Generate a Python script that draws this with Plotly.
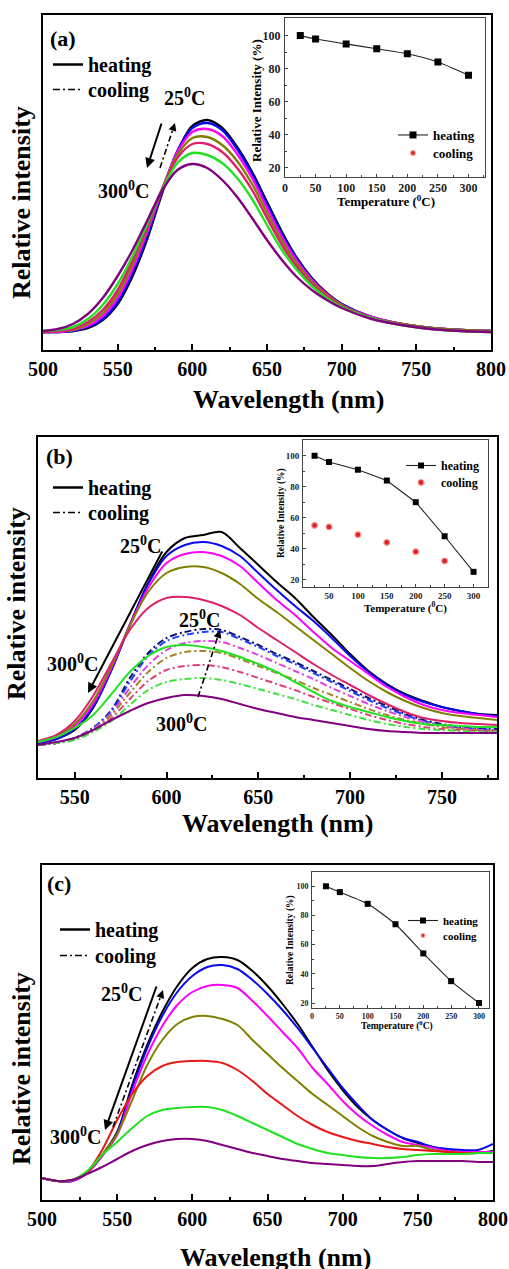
import plotly.graph_objects as go

W, H = 509, 1269
FONT = "Liberation Serif"


def px(x):
    return x / W


def py(y):
    return 1 - y / H


# ---------------- data ----------------
temps = [25, 50, 100, 150, 200, 250, 300]
temps_cool_b = [25, 50, 100, 150, 200, 250]

# Panel (a) emission spectra (arbitrary units)
wl_a = [500, 510, 520, 530, 540, 550, 560, 570, 580, 590, 600, 610, 620, 630, 640,
        650, 660, 670, 680, 690, 700, 720, 740, 760, 780, 800]
a_25 = [18, 18, 19, 22, 30, 46, 74, 112, 158, 198, 224, 230, 222, 203, 178, 148, 118, 92, 72, 57, 46, 33, 26, 22, 20, 19]
a_50 = [18, 18, 19, 23, 31, 48, 77, 115, 160, 199, 222, 227, 220, 201, 176, 146, 116, 91, 71, 56, 46, 33, 26, 22, 20, 19]
a_100 = [18, 18, 20, 24, 34, 52, 81, 119, 161, 198, 218, 221, 214, 196, 172, 142, 113, 89, 70, 56, 45, 33, 26, 22, 20, 19]
a_150 = [18, 19, 20, 26, 37, 56, 86, 123, 162, 195, 212, 213, 205, 189, 166, 137, 109, 86, 68, 55, 45, 32, 26, 22, 20, 19]
a_200 = [18, 19, 21, 28, 40, 60, 90, 125, 162, 192, 206, 206, 198, 182, 160, 132, 105, 83, 66, 54, 44, 32, 25, 21, 19, 18]
a_250 = [19, 20, 23, 31, 45, 66, 94, 127, 161, 187, 197, 195, 187, 172, 151, 125, 100, 80, 64, 52, 43, 32, 25, 21, 19, 18]
a_300 = [19, 21, 26, 36, 52, 74, 100, 130, 160, 180, 186, 182, 170, 153, 132, 110, 90, 73, 60, 50, 42, 31, 25, 21, 19, 18]
inset_a_heat = [100, 98, 95, 92, 89, 84, 76]
inset_a_cool = [100, 98, 95, 92, 89, 84, 76]

# Panel (b)
wl_b = [530, 540, 550, 560, 570, 580, 590, 600, 610, 620, 630, 640, 650, 660, 670,
        680, 690, 700, 710, 720, 730, 740, 750, 760, 770, 780]
b_heat_25 = [35, 39, 48, 70, 108, 153, 195, 226, 240, 243, 246, 230, 213, 196, 180, 161, 143, 124, 107, 94, 84, 77, 71, 67, 64, 63]
b_heat_50 = [35, 39, 49, 71, 108, 153, 194, 222, 233, 236, 232, 222, 205, 188, 172, 157, 140, 122, 106, 93, 83, 76, 71, 67, 64, 62]
b_heat_100 = [36, 41, 52, 74, 110, 153, 190, 215, 224, 226, 222, 212, 195, 178, 163, 146, 130, 117, 104, 91, 81, 73, 68, 65, 63, 61]
b_heat_150 = [36, 42, 54, 77, 112, 152, 186, 205, 211, 211, 205, 194, 179, 166, 152, 138, 124, 110, 97, 86, 77, 70, 65, 62, 60, 58]
b_heat_200 = [37, 43, 57, 82, 115, 148, 170, 180, 181, 178, 172, 163, 150, 138, 126, 114, 103, 93, 83, 74, 66, 60, 57, 55, 54, 53]
b_heat_250 = [36, 41, 50, 63, 84, 106, 122, 131, 133, 131, 127, 121, 114, 106, 96, 86, 77, 71, 66, 61, 57, 54, 53, 52, 51, 51]
b_heat_300 = [33, 36, 40, 48, 58, 67, 75, 80, 83, 82, 79, 74, 69, 65, 61, 58, 55, 52, 49, 47, 46, 45, 45, 45, 45, 45]
b_cool_25 = [33, 35, 40, 50, 68, 100, 125, 140, 146, 149, 148, 141, 133, 124, 116, 107, 98, 89, 80, 72, 64, 58, 54, 51, 50, 49]
b_cool_50 = [33, 35, 40, 50, 67, 96, 122, 137, 143, 146, 146, 139, 131, 122, 114, 105, 96, 87, 78, 70, 63, 57, 53, 50, 49, 48]
b_cool_100 = [33, 35, 40, 49, 65, 90, 113, 128, 135, 137, 136, 130, 123, 115, 107, 99, 90, 82, 74, 67, 61, 56, 52, 50, 48, 47]
b_cool_150 = [33, 35, 39, 48, 63, 85, 106, 120, 126, 127, 125, 119, 112, 105, 98, 90, 83, 76, 69, 63, 58, 54, 51, 49, 48, 47]
b_cool_200 = [33, 35, 39, 47, 60, 79, 97, 108, 112, 113, 111, 106, 100, 94, 88, 81, 75, 69, 63, 58, 54, 51, 49, 48, 47, 46]
b_cool_250 = [33, 35, 38, 46, 57, 73, 88, 96, 99, 100, 98, 94, 89, 84, 79, 73, 68, 63, 58, 54, 51, 49, 48, 47, 46, 46]
inset_b_heat = [100, 96, 91, 84, 70, 48, 25]
inset_b_cool = [55, 54, 49, 44, 38, 32]

# Panel (c)
wl_c = [500, 510, 520, 530, 540, 550, 560, 570, 580, 590, 600, 610, 620, 630, 640, 650,
        660, 670, 680, 690, 700, 710, 720, 730, 740, 750, 760, 770, 780, 790, 800]
c_25 = [22, 19, 19, 27, 45, 68, 115, 155, 188, 214, 232, 241, 243, 240, 229, 214, 196, 176, 153, 130, 110, 93, 80, 70, 62, 57, 53, 50, 47, 47, 49]
c_50 = [22, 19, 19, 27, 44, 67, 112, 152, 184, 208, 224, 233, 235, 231, 220, 206, 190, 172, 152, 132, 112, 95, 80, 70, 62, 58, 53, 51, 50, 50, 56]
c_100 = [22, 19, 19, 27, 44, 65, 108, 145, 174, 195, 208, 214, 215, 212, 199, 184, 168, 152, 132, 116, 99, 85, 74, 65, 58, 55, 52, 49, 48, 48, 48]
c_150 = [22, 19, 20, 28, 45, 66, 100, 135, 160, 176, 183, 184, 181, 175, 160, 146, 132, 119, 106, 95, 84, 73, 64, 58, 54, 54, 50, 48, 47, 47, 47]
c_200 = [22, 19, 20, 28, 50, 80, 106, 124, 134, 138, 139, 139, 137, 130, 119, 106, 95, 84, 75, 68, 63, 59, 56, 53, 51, 50, 49, 48, 47, 47, 47]
c_250 = [22, 19, 20, 29, 45, 58, 72, 84, 90, 92, 93, 93, 90, 84, 77, 70, 63, 56, 51, 47, 45, 43, 42, 42, 43, 45, 46, 46, 46, 47, 47]
c_300 = [22, 19, 20, 26, 33, 41, 49, 55, 59, 61, 61, 59, 55, 51, 47, 44, 41, 39, 37, 36, 35, 34, 34, 36, 38, 39, 39, 39, 39, 38, 38]
inset_c_heat = [100, 96, 88, 74, 54, 35, 20]
inset_c_cool = [100, 96, 88, 74, 54, 35, 20]

x_ticks_main = [500, 550, 600, 650, 700, 750, 800]
inset_x_ticks = [0, 50, 100, 150, 200, 250, 300]
inset_y_ticks = [20, 40, 60, 80, 100]

colors_ab = ["#000000", "#0a0af0", "#ff00ff", "#808000", "#e0206a", "#22e022", "#800080"]
colors_c = ["#000000", "#0a0af0", "#ff00ff", "#808000", "#e81818", "#22e022", "#800080"]
colors_cool_b = ["#10106e", "#2040ff", "#e040e0", "#a08828", "#e04070", "#40e040"]

fig = go.Figure()


def curve(x, y, color, xa, ya, dash=None, width=2.2):
    fig.add_trace(go.Scatter(
        x=x, y=y, mode="lines", xaxis=xa, yaxis=ya, showlegend=False, hoverinfo="skip",
        line=dict(color=color, width=width, shape="spline", smoothing=0.9, dash=dash)))


DASHDOT = "7px,3px,2px,3px"

for ys, c in zip([a_25, a_50, a_100, a_150, a_200, a_250, a_300], colors_ab):
    curve(wl_a, ys, c, "x", "y", width=2.4)

for ys, c in zip([b_cool_25, b_cool_50, b_cool_100, b_cool_150, b_cool_200, b_cool_250], colors_cool_b):
    curve(wl_b, ys, c, "x3", "y3", dash=DASHDOT, width=2)
for ys, c in zip([b_heat_25, b_heat_50, b_heat_100, b_heat_150, b_heat_200, b_heat_250, b_heat_300], colors_ab):
    curve(wl_b, ys, c, "x3", "y3", width=2)

for ys, c in zip([c_25, c_50, c_100, c_150, c_200, c_250, c_300], colors_c):
    curve(wl_c, ys, c, "x5", "y5", width=2)

# main legends (heating / cooling keys), one legend per entry for exact placement
for xa, ya, lg_h, lg_c in [("x", "y", "legend", "legend2"), ("x3", "y3", "legend5", "legend6"),
                           ("x5", "y5", "legend9", "legend10")]:
    fig.add_trace(go.Scatter(x=[None], y=[None], mode="lines", xaxis=xa, yaxis=ya, name="heating",
                             legend=lg_h, line=dict(color="black", width=2.5)))
    fig.add_trace(go.Scatter(x=[None], y=[None], mode="lines", xaxis=xa, yaxis=ya, name="cooling",
                             legend=lg_c, line=dict(color="black", width=1.5, dash=DASHDOT)))


# insets
def inset(xa, ya, lg_h, lg_c, heat, tcool, cool, msize, hidden_cool, spline):
    fig.add_trace(go.Scatter(
        x=tcool, y=cool, mode="markers", xaxis=xa, yaxis=ya, name="cooling", legend=lg_c,
        marker=dict(color="#e02424", size=msize - (2 if hidden_cool else 0), symbol="circle",
                    line=dict(color="#f5a5a5", width=1.2)), hoverinfo="skip"))
    fig.add_trace(go.Scatter(
        x=temps, y=heat, mode="lines+markers", xaxis=xa, yaxis=ya, name="heating", legend=lg_h,
        line=dict(color="#222222", width=1.1, shape="spline" if spline else "linear", smoothing=0.6),
        marker=dict(color="black", size=msize, symbol="square"), hoverinfo="skip"))


inset("x2", "y2", "legend3", "legend4", inset_a_heat, temps, inset_a_cool, 7, True, True)
inset("x4", "y4", "legend7", "legend8", inset_b_heat, temps_cool_b, inset_b_cool, 6, False, False)
inset("x6", "y6", "legend11", "legend12", inset_c_heat, temps, inset_c_cool, 6, True, True)


def main_x(x0, x1, y_anchor, rng):
    return dict(domain=[px(x0), px(x1)], range=rng, anchor=y_anchor, showline=True, linewidth=2,
                linecolor="black", mirror=True, ticks="inside", ticklen=6, tickwidth=1.5, tickcolor="black",
                tickvals=x_ticks_main, minor=dict(ticks="inside", ticklen=3, dtick=25, tick0=500, tickcolor="black"),
                showgrid=False, zeroline=False, automargin=False,
                tickfont=dict(family=FONT, size=20, color="black", weight="bold"))


def main_y(y0, y1, x_anchor, rng):
    return dict(domain=[py(y1), py(y0)], range=rng, anchor=x_anchor, showline=True, linewidth=2,
                linecolor="black", mirror=True, showticklabels=False, ticks="", showgrid=False,
                zeroline=False, automargin=False)


def inset_x(x0, x1, y_anchor, rng, fs):
    return dict(domain=[px(x0), px(x1)], range=rng, anchor=y_anchor, showline=True, linewidth=1,
                linecolor="#444444", mirror=True, ticks="inside", ticklen=3, tickcolor="#444444",
                tickvals=inset_x_ticks, minor=dict(ticks="inside", ticklen=2, dtick=25, tick0=0, tickcolor="#444444"),
                showgrid=False, zeroline=False, automargin=False, ticklabelstandoff=0,
                tickfont=dict(family=FONT, size=fs, color="#222222", weight="bold"))


def inset_y(y0, y1, x_anchor, rng, fs):
    return dict(domain=[py(y1), py(y0)], range=rng, anchor=x_anchor, showline=True, linewidth=1,
                linecolor="#444444", mirror=True, ticks="inside", ticklen=3, tickcolor="#444444",
                tickvals=inset_y_ticks, minor=dict(ticks="inside", ticklen=2, dtick=10, tick0=0, tickcolor="#444444"),
                showgrid=False, zeroline=False, automargin=False, ticklabelstandoff=1,
                tickfont=dict(family=FONT, size=fs, color="#222222", weight="bold"))


layout = dict(
    width=W, height=H, margin=dict(l=0, r=0, t=0, b=0),
    paper_bgcolor="white", plot_bgcolor="white",
    xaxis=main_x(43, 491, "y", [500, 800]), yaxis=main_y(15, 350, "x", [0, 335]),
    xaxis2=inset_x(285, 485, "y2", [0, 327], 12), yaxis2=inset_y(18.3, 176.7, "x2", [14.5, 110.5], 12),
    xaxis3=main_x(38, 497, "y3", [530, 780]), yaxis3=main_y(437, 778, "x3", [0, 341]),
    xaxis4=inset_x(303, 488, "y4", [5, 325], 9), yaxis4=inset_y(440, 587, "x4", [15.2, 110.2], 9),
    xaxis5=main_x(42, 493, "y5", [500, 800]), yaxis5=main_y(865, 1200, "x5", [0, 335]),
    xaxis6=inset_x(312, 489, "y6", [0, 318], 8), yaxis6=inset_y(872, 1008, "x6", [16.6, 109.8], 8),
)


def legend_at(x, y, fs):
    return dict(x=px(x), y=py(y), xanchor="left", yanchor="top", bgcolor="rgba(0,0,0,0)",
                borderwidth=0, tracegroupgap=0, itemwidth=30,
                font=dict(family=FONT, size=fs, color="black", weight="bold"))


# main (a)
layout["legend"] = legend_at(48, 45, 20)
layout["legend2"] = legend_at(48, 70, 20)
# inset (a)
layout["legend3"] = legend_at(393, 120, 13)
layout["legend4"] = legend_at(393, 138, 13)
# main (b)
layout["legend5"] = legend_at(48, 468, 20)
layout["legend6"] = legend_at(48, 493, 20)
# inset (b)
layout["legend7"] = legend_at(401, 451, 12)
layout["legend8"] = legend_at(401, 468, 12)
# main (c)
layout["legend9"] = legend_at(55, 910, 20)
layout["legend10"] = legend_at(55, 936, 20)
# inset (c)
layout["legend11"] = legend_at(403, 906, 11)
layout["legend12"] = legend_at(403, 921, 11)

annotations = []


def text(t, x, y, size, angle=0, color="black"):
    annotations.append(dict(text=t, x=px(x), y=py(y), xref="paper", yref="paper", showarrow=False,
                            xanchor="center", yanchor="middle", textangle=angle,
                            font=dict(family=FONT, size=size, color=color, weight="bold")))


def arrow(tail, head):
    annotations.append(dict(text="", x=px(head[0]), y=py(head[1]), xref="paper", yref="paper",
                            ax=tail[0] - head[0], ay=tail[1] - head[1], showarrow=True,
                            arrowhead=2, arrowsize=1, arrowwidth=2, arrowcolor="black"))


shapes = []


def dashed_arrow(tail, head):
    dx, dy = head[0] - tail[0], head[1] - tail[1]
    L = (dx * dx + dy * dy) ** 0.5
    ux, uy = dx / L, dy / L
    shapes.append(dict(type="line", xref="paper", yref="paper", x0=px(tail[0]), y0=py(tail[1]),
                       x1=px(head[0] - ux * 4), y1=py(head[1] - uy * 4),
                       line=dict(color="black", width=1.6, dash="6px,3px,2px,3px")))
    annotations.append(dict(text="", x=px(head[0]), y=py(head[1]), xref="paper", yref="paper",
                            ax=-ux * 8, ay=-uy * 8, showarrow=True, arrowhead=2, arrowsize=1,
                            arrowwidth=1.6, arrowcolor="black"))


# panel (a)
text("(a)", 63, 38, 22)
text("25<sup>0</sup>C", 184, 97, 20)
text("300<sup>0</sup>C", 123, 190, 20)
arrow((162, 122), (147, 168))
dashed_arrow((160, 168), (175, 123))
text("Relative intensity", 21, 203, 26, angle=-90)
text("Wavelength (nm)", 288, 399, 26)
text("Relative Intensity (%)", 256, 100, 13, angle=-90)
text("Temperature (<sup>0</sup>C)", 386, 201, 13)

# panel (b)
text("(b)", 59, 457, 22)
text("25<sup>0</sup>C", 140, 545, 20)
text("300<sup>0</sup>C", 72, 663, 20)
arrow((163, 550), (88, 693))
text("25<sup>0</sup>C", 199, 619, 20)
text("300<sup>0</sup>C", 181, 723, 20)
dashed_arrow((198, 697), (220, 630))
text("Relative intensity", 16, 604, 26, angle=-90)
text("Wavelength (nm)", 277, 823, 26)
text("Relative Intensity (%)", 281, 513, 9.5, angle=-90)
text("Temperature (<sup>0</sup>C)", 405, 607, 11)

# panel (c)
text("(c)", 59, 883, 22)
text("25<sup>0</sup>C", 121, 993, 20)
text("300<sup>0</sup>C", 75, 1136, 20)
arrow((157, 985), (105, 1130))
dashed_arrow((113, 1127), (163, 990))
text("Relative intensity", 21, 1069, 26, angle=-90)
text("Wavelength (nm)", 275, 1257, 26)
text("Relative Intensity (%)", 290, 940, 9.5, angle=-90)
text("Temperature (<sup>0</sup>C)", 397, 1025, 9.5)

layout["annotations"] = annotations
layout["shapes"] = shapes
fig.update_layout(**layout)

fig.write_html("out.html", config={"displayModeBar": False},
               post_script="document.body.style.margin='0';document.body.style.overflow='hidden';")
